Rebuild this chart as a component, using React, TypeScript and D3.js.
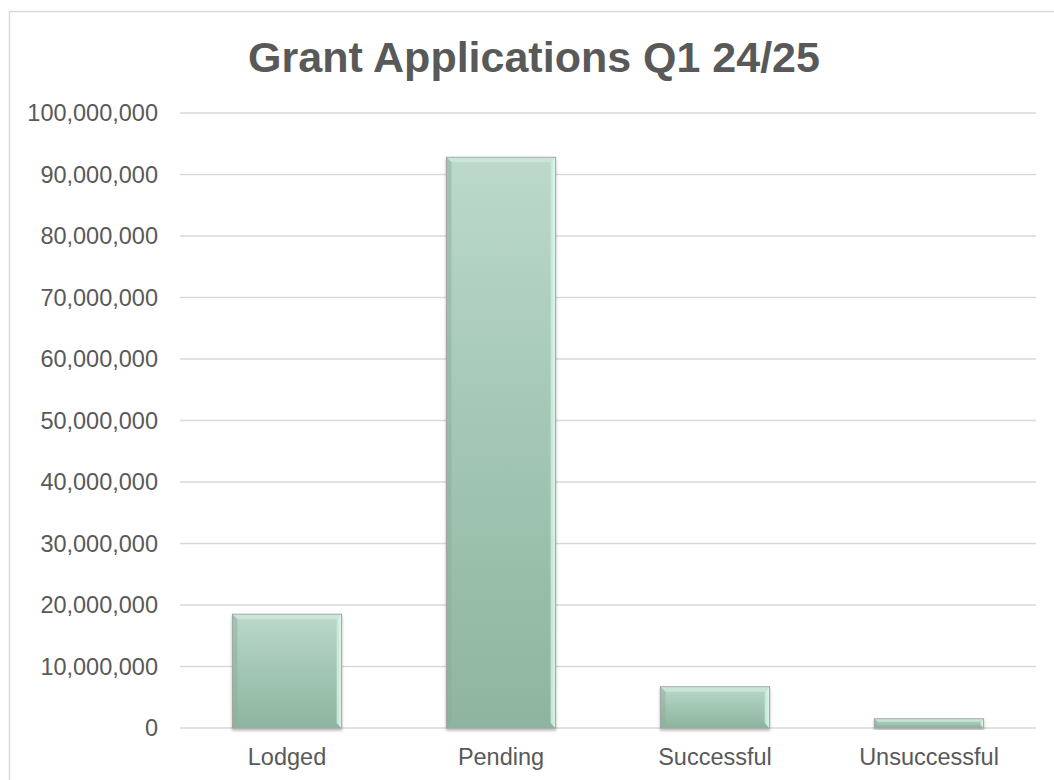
import React from "react";
import * as d3 from "d3";

const categories = ["Lodged", "Pending", "Successful", "Unsuccessful"];
const values = [18500000, 92800000, 6700000, 1500000];
const yTicks = [0, 10000000, 20000000, 30000000, 40000000, 50000000, 60000000, 70000000, 80000000, 90000000, 100000000];
const title = "Grant Applications Q1 24/25";

export default function App() {
  const W = 1054;
  const H = 780;
  const left = 180;
  const right = 1036;
  const top = 113;
  const bottom = 728;

  const x = d3.scaleBand<string>().domain(categories).range([left, right]).paddingInner(0.49).paddingOuter(0.245);
  const y = d3.scaleLinear().domain([0, 100000000]).range([bottom, top]);
  const fmt = d3.format(",");
  const font = "'Liberation Sans', Arial, sans-serif";
  const textColor = "#595959";

  return (
    <svg width={W} height={H} style={{ position: "absolute", left: 0, top: 0, background: "#fff" }}>
      <defs>
        <linearGradient id="barGrad" x1="0" y1="0" x2="0" y2="1">
          <stop offset="0" stopColor="#bcd9ca" />
          <stop offset="0.5" stopColor="#a2c6b3" />
          <stop offset="1" stopColor="#8db59f" />
        </linearGradient>
        <linearGradient id="rightEdge" x1="0" y1="0" x2="1" y2="0">
          <stop offset="0" stopColor="#c4e8d6" />
          <stop offset="1" stopColor="#e0fbef" />
        </linearGradient>
        <filter id="shadow" x="-10%" y="-10%" width="120%" height="130%">
          <feDropShadow dx="0" dy="2" stdDeviation="1.5" floodColor="#000" floodOpacity="0.3" />
        </filter>
      </defs>
      <rect x={9.5} y={11.5} width={W + 20} height={H + 20} fill="#fff" stroke="#d9d9d9" strokeWidth={1.5} />
      <text x={534} y={72} textAnchor="middle" fontFamily={font} fontWeight="bold" fontSize={43} fill={textColor}>
        {title}
      </text>
      {yTicks.map((t) => (
        <g key={t}>
          <line x1={left} x2={right} y1={y(t)} y2={y(t)} stroke="#d9d9d9" strokeWidth={1.5} />
          <text x={158} y={y(t)} dy="0.35em" textAnchor="end" fontFamily={font} fontSize={23.5} fill={textColor}>
            {fmt(t)}
          </text>
        </g>
      ))}
      {categories.map((c, i) => {
        const bx = x(c)!;
        const bw = x.bandwidth();
        const by = y(values[i]);
        const bh = bottom - by;
        const bev = Math.min(5, bh / 3);
        return (
          <g key={c}>
            <rect x={bx} y={by} width={bw} height={bh} fill="url(#barGrad)" stroke="#a3a3a3" strokeWidth={1} filter="url(#shadow)" />
            <polygon
              points={`${bx + 0.5},${by + 0.5} ${bx + bw - 0.5},${by + 0.5} ${bx + bw - bev},${by + bev} ${bx + bev},${by + bev}`}
              fill="#d2ebde"
              opacity={0.7}
            />
            <polygon
              points={`${bx + bw - 0.5},${by + 0.5} ${bx + bw - 0.5},${bottom} ${bx + bw - bev},${bottom - bev} ${bx + bw - bev},${by + bev}`}
              fill="url(#rightEdge)"
              opacity={0.9}
            />
            <polygon
              points={`${bx + 0.5},${by + 0.5} ${bx + bev},${by + bev} ${bx + bev},${bottom - bev} ${bx + 0.5},${bottom}`}
              fill="#8aad9a"
              opacity={0.5}
            />
            <polygon
              points={`${bx + 0.5},${bottom} ${bx + bev},${bottom - bev} ${bx + bw - bev},${bottom - bev} ${bx + bw - 0.5},${bottom}`}
              fill="#8fb39f"
              opacity={0.3}
            />
          </g>
        );
      })}
      {categories.map((c) => (
        <text key={c} x={x(c)! + x.bandwidth() / 2} y={765} textAnchor="middle" fontFamily={font} fontSize={23.5} fill={textColor}>
          {c}
        </text>
      ))}
    </svg>
  );
}
